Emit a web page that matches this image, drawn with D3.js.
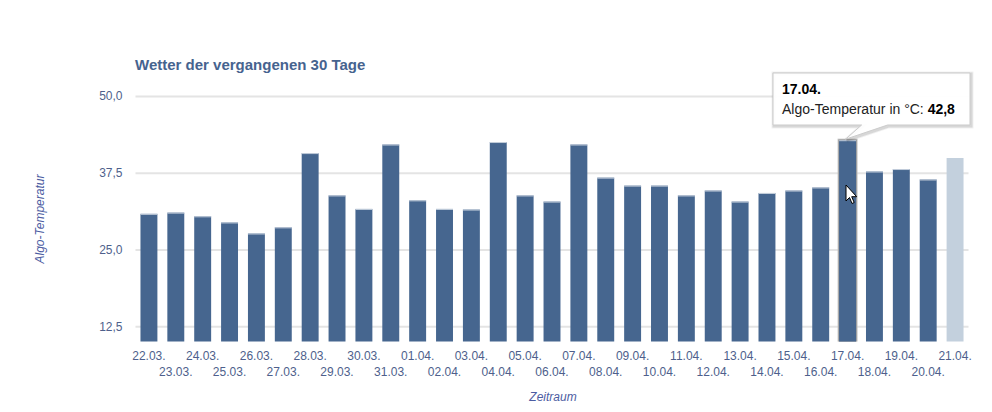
<!DOCTYPE html>
<html><head><meta charset="utf-8">
<script src="https://cdn.jsdelivr.net/npm/d3@7"></script>
<style>
html,body{margin:0;padding:0;background:#fff;}
svg{display:block;font-family:"Liberation Sans",Arial,sans-serif;}
</style></head>
<body><svg id="c" width="992" height="412"></svg>
<script>
const title = "Wetter der vergangenen 30 Tage";
const yTitle = "Algo-Temperatur";
const xTitle = "Zeitraum";
const categories = ["22.03.","23.03.","24.03.","25.03.","26.03.","27.03.","28.03.","29.03.","30.03.","31.03.",
  "01.04.","02.04.","03.04.","04.04.","05.04.","06.04.","07.04.","08.04.","09.04.","10.04.",
  "11.04.","12.04.","13.04.","14.04.","15.04.","16.04.","17.04.","18.04.","19.04.","20.04.","21.04."];
const values = [30.8,31.0,30.4,29.4,27.6,28.6,40.7,33.8,31.6,42.1,
  33.0,31.6,31.5,42.5,33.8,32.8,42.1,36.7,35.4,35.4,
  33.8,34.6,32.8,34.2,34.6,35.1,42.8,37.7,38.1,36.4,39.9];
const yTicks = [12.5,25,37.5,50];
const yDomain = [10,50];
const hoverIndex = 26;
const currentIndex = 30;
const tooltipLabel = "Algo-Temperatur in °C: ";

const svg = d3.select("#c");
const m = {left:135.5, right:968.5, top:96, bottom:341.5};
const x = d3.scaleBand().domain(categories).range([m.left, m.right]).paddingInner(0.37).paddingOuter(0.185);
const y = d3.scaleLinear().domain(yDomain).range([m.bottom, m.top]);
const fmt = v => d3.format(".1f")(v).replace(".", ",");

// title
svg.append("text").attr("x",135).attr("y",70).attr("font-size",15).attr("font-weight","bold")
  .attr("fill","#46638f").text(title);

// grid + y labels
const yAxis = d3.axisLeft(y).tickValues(yTicks).tickFormat(fmt).tickSize(-(m.right-m.left)).tickPadding(13);
const gy = svg.append("g").attr("transform",`translate(${m.left},0)`).call(yAxis);
gy.select(".domain").remove();
gy.selectAll(".tick line").attr("stroke","#e4e4e4").attr("stroke-width",2);
gy.selectAll(".tick text").attr("fill","#4e5f8c").attr("font-size",12).attr("font-family","Liberation Sans, Arial, sans-serif");

// bars
const bw = x.bandwidth();
const bars = svg.append("g");
categories.forEach((c,i)=>{
  const v = values[i];
  const col = i===currentIndex ? "#c3d0dd" : "#46668f";
  if(i===hoverIndex){
    bars.append("rect").attr("x",x(c)-1.5).attr("y",y(v)-1.5).attr("width",bw+3).attr("height",m.bottom-y(v)+1.5)
      .attr("fill","#bdbdbd");
    bars.append("rect").attr("x",x(c)-0.5).attr("y",y(v)-0.5).attr("width",bw+1).attr("height",m.bottom-y(v)+0.5)
      .attr("fill","#8d8d8d");
  }
  bars.append("rect").attr("x",x(c)).attr("y",y(v)).attr("width",bw).attr("height",m.bottom-y(v)).attr("fill",col);
  if(i!==currentIndex){
    bars.append("rect").attr("x",x(c)).attr("y",y(v)).attr("width",bw).attr("height",1).attr("fill","#c5cfdc");
  }
});

// x axis labels
const xAxis = d3.axisBottom(x).tickSize(0).tickPadding(0);
const gx = svg.append("g").attr("transform",`translate(0,${m.bottom})`).call(xAxis);
gx.select(".domain").remove();
gx.selectAll(".tick text").attr("fill","#4e5f8c").attr("font-size",12)
  .attr("font-family","Liberation Sans, Arial, sans-serif")
  .attr("dy",null).attr("y",(d,i)=> i%2===0 ? 18.5 : 34.5);

// axis titles
svg.append("text").attr("transform","translate(44,219) rotate(-90)").attr("text-anchor","middle")
  .attr("font-size",12).attr("font-style","italic").attr("fill","#4c5ca2").text(yTitle);
svg.append("text").attr("x",553).attr("y",401).attr("text-anchor","middle")
  .attr("font-size",12).attr("font-style","italic").attr("fill","#4c5ca2").text(xTitle);

// tooltip
const hc = categories[hoverIndex], hv = values[hoverIndex];
const tipX = 773, tipY = 73, tipW = 197, tipH = 52;
const px = x(hc) + bw/2, py = y(hv);
const tg = svg.append("g");
const shape = `M${tipX},${tipY} h${tipW} v${tipH} H${px+40} L${px-2},${py-1} L${px+14},${tipY+tipH} H${tipX} Z`;
tg.append("path").attr("d",shape).attr("transform","translate(1,1)").attr("fill","none").attr("stroke","#000").attr("stroke-opacity",0.06).attr("stroke-width",5);
tg.append("path").attr("d",shape).attr("transform","translate(1,1)").attr("fill","none").attr("stroke","#000").attr("stroke-opacity",0.1).attr("stroke-width",3);
tg.append("path").attr("d",shape).attr("fill","#fff").attr("fill-opacity",0.95).attr("stroke","#cccccc").attr("stroke-width",1);
tg.append("text").attr("x",782).attr("y",94).attr("font-size",14).attr("font-weight","bold").attr("fill","#000").text(hc);
const t2 = tg.append("text").attr("x",782).attr("y",114).attr("font-size",14).attr("fill","#222");
t2.append("tspan").text(tooltipLabel);
t2.append("tspan").attr("font-weight","bold").attr("fill","#000").text(fmt(hv));

// mouse cursor
svg.append("path").attr("d","M846,185 v16 l3.5,-3.5 l2.5,6 l2.2,-1 l-2.5,-5.8 h5 Z")
  .attr("fill","#fff").attr("stroke","#000").attr("stroke-width",1);
</script></body></html>
